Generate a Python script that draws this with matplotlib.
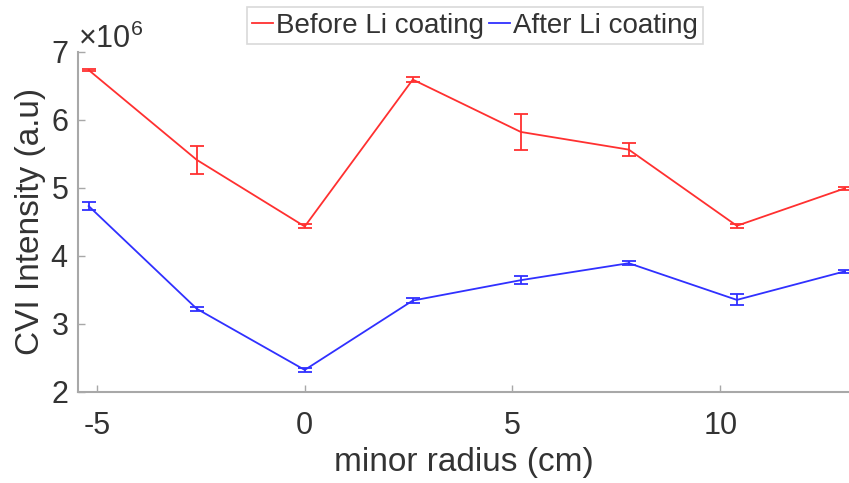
import matplotlib.pyplot as plt
from matplotlib import ticker

plt.rcParams['font.family'] = ['Liberation Sans', 'DejaVu Sans']
plt.rcParams['mathtext.fontset'] = 'custom'
plt.rcParams['mathtext.rm'] = 'Liberation Sans'
plt.rcParams['axes.unicode_minus'] = False

radius = [-5.2, -2.6, 0.0, 2.6, 5.2, 7.8, 10.4, 13.0]

before = [6.73e6, 5.41e6, 4.43e6, 6.59e6, 5.82e6, 5.56e6, 4.44e6, 4.99e6]
before_err = [0.02e6, 0.21e6, 0.03e6, 0.04e6, 0.26e6, 0.10e6, 0.03e6, 0.02e6]

after = [4.73e6, 3.22e6, 2.32e6, 3.34e6, 3.64e6, 3.89e6, 3.35e6, 3.77e6]
after_err = [0.06e6, 0.03e6, 0.03e6, 0.04e6, 0.06e6, 0.03e6, 0.08e6, 0.02e6]

TXT = '#333333'
AXC = '#a8a8a8'

fig = plt.figure(figsize=(8.49, 4.83), dpi=100)
ax = fig.add_axes([78.3 / 849, 1 - 391.7 / 483, 1 - 78.3 / 849, (391.7 - 51.7) / 483])

eb1 = ax.errorbar(radius, before, yerr=before_err, color='#ff3030', lw=1.3,
                  capsize=5, elinewidth=1.3, capthick=1.3, label='Before Li coating')
eb2 = ax.errorbar(radius, after, yerr=after_err, color='#3030ff', lw=1.3,
                  capsize=5, elinewidth=1.3, capthick=1.3, label='After Li coating')

ax.set_xlim(-5.45, 13.1)
ax.set_ylim(2e6, 7e6)
ax.set_xticks([-5, 0, 5, 10])
ax.set_yticks([2e6, 3e6, 4e6, 5e6, 6e6, 7e6])

fmt = ticker.ScalarFormatter(useMathText=True)
fmt.set_powerlimits((0, 0))
ax.yaxis.set_major_formatter(fmt)
ax.yaxis.get_offset_text().set_fontsize(22)
ax.yaxis.get_offset_text().set_color(TXT)

for side in ('top', 'right'):
    ax.spines[side].set_visible(False)
for side in ('left', 'bottom'):
    ax.spines[side].set_color(AXC)
    ax.spines[side].set_linewidth(1.5)

ax.tick_params(direction='in', length=5, width=1, color=AXC,
               labelsize=22, labelcolor=TXT)
ax.tick_params(axis='x', pad=14)
ax.tick_params(axis='y', pad=7)

ax.set_xlabel('minor radius (cm)', fontsize=24, color=TXT, labelpad=4)
ax.set_ylabel('CVI Intensity (a.u)', fontsize=24, color=TXT, labelpad=3)

# legend shows only the plain line of each series
handles = [eb1.lines[0], eb2.lines[0]]
labels = ['Before Li coating', 'After Li coating']
leg = fig.legend(handles, labels, loc='upper center',
                 bbox_to_anchor=(475 / 849, 1 - 7 / 483), borderaxespad=0,
                 ncol=2, fontsize=20, handlelength=0.75, handletextpad=0.1,
                 columnspacing=0.2, borderpad=0.2, fancybox=False,
                 frameon=True, labelcolor=TXT)
leg.get_frame().set_edgecolor('#d0d0d0')
leg.get_frame().set_linewidth(1.2)

fig.savefig('out.png', dpi=100)
